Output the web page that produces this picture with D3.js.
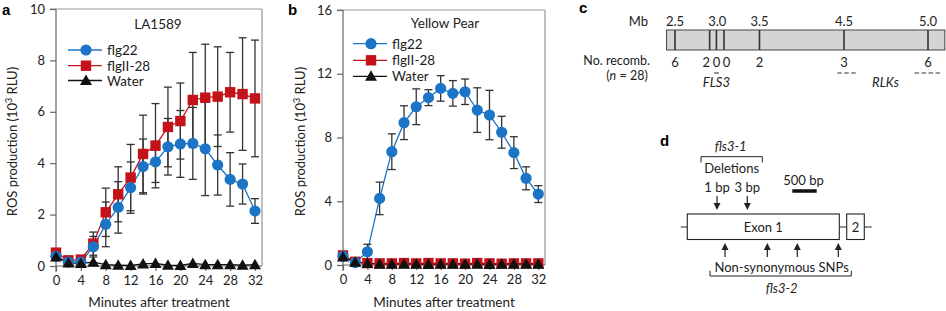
<!DOCTYPE html>
<html><head><meta charset="utf-8">
<script src="https://cdn.jsdelivr.net/npm/d3@7"></script>
<style>
body{margin:0;background:#fff;}
svg{display:block;font-family:Lato,"Open Sans",sans-serif;}
</style></head><body>
<svg id="chart" width="946" height="311"></svg>
<script>
// ---------- DATA ----------
const minutes = [0,2,4,6,8,10,12,14,16,18,20,22,24,26,28,30,32];
const xTicks = [0,4,8,12,16,20,24,28,32];
const seriesNames = ["flg22","flgII-28","Water"];

// Panel a (LA1589)
const aFlg22    = [0.38,0.15,0.15,0.75,1.62,2.28,3.05,3.87,4.05,4.64,4.75,4.77,4.56,3.93,3.37,3.19,2.14];
const aFlg22Err = [0.05,0.05,0.05,0.40,0.87,1.00,1.00,1.07,0.80,1.10,1.30,1.40,1.82,1.17,1.04,0.78,0.48];
const aFlgII    = [0.52,0.22,0.25,0.87,2.09,2.79,3.44,4.36,4.68,5.41,5.64,6.46,6.55,6.59,6.76,6.69,6.52];
const aFlgIIErr = [0.05,0.05,0.05,0.45,0.94,1.07,1.29,1.51,1.64,1.55,1.48,1.85,2.08,1.94,1.55,2.19,2.27];
const aWater    = [0.35,0.12,0.10,0.15,0.05,0.03,0.02,0.08,0.10,0.03,0.02,0.10,0.05,0.05,0.05,0.03,0.05];
const aYTicks = [0,2,4,6,8,10];

// Panel b (Yellow Pear)
const bFlg22    = [0.55,0.15,0.83,4.18,7.11,8.93,9.93,10.50,11.08,10.77,10.87,9.72,9.41,8.33,7.05,5.44,4.45];
const bFlg22Err = [0.05,0.05,0.47,1.02,1.12,1.06,1.12,0.50,0.80,0.80,0.80,1.40,1.55,1.00,1.00,0.72,0.53];
const bFlgII    = [0.60,0.20,0.12,0.10,0.10,0.12,0.10,0.12,0.10,0.10,0.08,0.12,0.10,0.08,0.10,0.10,0.10];
const bWater    = [0.50,0.18,0.10,0.05,0.05,0.05,0.05,0.03,0.05,0.05,0.05,0.05,0.03,0.05,0.05,0.05,0.05];
const bYTicks = [0,4,8,12,16];

// Panel c (genetic map)
const mbTicks = [2.5,3.0,3.5,4.5,5.0];
const markerMb = [2.5,2.91,2.99,3.08,3.5,4.5,5.0];
const recombMb = [2.5,2.87,2.99,3.11,3.5,4.5,5.0];
const recombCounts = [6,2,0,0,2,3,6];
const mapExtentMb = [2.40,5.10];
const fls3Mb = [2.96,3.02];
const rlkRangesMb = [[4.42,4.57],[4.92,5.08]];

// Panel d (gene model, bp)
const geneExtent = [0,3914];
const exon1 = [135,3250];
const exon2 = [3402,3762];
const deletionsBp = [744,1365];
const deletionLabels = ["1 bp","3 bp"];
const snpBp = [908,1775,2389,3230];
const scaleBarBp = [2287,2787];

// ---------- STYLE ----------
const BLUE = "#1b74c5", RED = "#c3121a", BLACK = "#111", ERR = "#333";
const svg = d3.select("#chart");

function panelLabel(t,x,y){
  svg.append("text").attr("x",x).attr("y",y).attr("font-weight","bold").attr("font-size",15)
    .attr("font-family","Arial, Liberation Sans, sans-serif").text(t);
}

function drawPanel(o){
  const g = svg.append("g");
  const x = d3.scaleLinear().domain([0,32]).range([o.x0,o.x1]);
  const y = d3.scaleLinear().domain([0,o.ymax]).range([o.y0,o.y1]);
  // frame top/right
  g.append("line").attr("x1",o.x0-6).attr("x2",o.xr).attr("y1",o.y1).attr("y2",o.y1).attr("stroke","#999").attr("stroke-width",1.2);
  g.append("line").attr("x1",o.xr).attr("x2",o.xr).attr("y1",o.y1).attr("y2",o.y0).attr("stroke","#aaa").attr("stroke-width",1.5);
  // axes
  const ya = g.append("g").attr("transform",`translate(${o.x0},0)`)
    .call(d3.axisLeft(y).tickValues(o.yt).tickSize(6).tickPadding(5));
  const xa = g.append("g").attr("transform",`translate(0,${o.y0})`)
    .call(d3.axisBottom(x).tickValues(xTicks).tickSize(5).tickPadding(5));
  ya.select(".domain").attr("d",`M0,${o.y1}V${o.y0+6}`);
  xa.select(".domain").attr("d",`M${o.x0},0H${o.xr}`);
  [ya,xa].forEach(a=>{
    a.selectAll("path,line").attr("stroke","#666").attr("stroke-width",1.2);
    a.selectAll("text").attr("font-size",13).attr("font-family","Lato, sans-serif").attr("fill","#222");
  });
  // axis titles
  g.append("text").attr("x",(o.x0+o.xr)/2).attr("y",307).attr("text-anchor","middle")
    .attr("font-size",13.5).attr("fill","#222").text("Minutes after treatment");
  const yl = g.append("text").attr("transform",`translate(${o.ylx},${(o.y0+o.y1)/2+4}) rotate(-90)`)
    .attr("text-anchor","middle").attr("font-size",13).attr("fill","#222");
  yl.append("tspan").text("ROS production (10");
  yl.append("tspan").attr("dy",-5).attr("font-size",9).text("3");
  yl.append("tspan").attr("dy",5).text(" RLU)");
  // title
  g.append("text").attr("x",o.tx).attr("y",o.ty).attr("text-anchor","middle").attr("font-size",13.5).attr("fill","#222").text(o.title);

  const line = d3.line().x((d,i)=>x(minutes[i])).y(d=>y(d));
  const series = [
    {v:o.flgII, e:o.flgIIErr, c:RED, m:"sq"},
    {v:o.flg22, e:o.flg22Err, c:BLUE, m:"ci"},
    {v:o.water, e:null, c:BLACK, m:"tr"}
  ];
  series.forEach(s=>{
    g.append("path").datum(s.v).attr("d",line).attr("fill","none").attr("stroke",s.c).attr("stroke-width",1.3);
  });
  series.forEach(s=>{
    if(!s.e) return;
    s.v.forEach((v,i)=>{
      const e = s.e[i]; if(e<0.2) return;
      const cx = x(minutes[i]);
      g.append("line").attr("x1",cx).attr("x2",cx).attr("y1",y(v-e)).attr("y2",y(v+e)).attr("stroke",ERR).attr("stroke-width",1.3);
      [v-e,v+e].forEach(t=>g.append("line").attr("x1",cx-4).attr("x2",cx+4).attr("y1",y(t)).attr("y2",y(t)).attr("stroke",ERR).attr("stroke-width",1.3));
    });
  });
  function marker(sel,m,c,cx,cy){
    if(m==="ci") sel.append("circle").attr("cx",cx).attr("cy",cy).attr("r",5.6).attr("fill",c);
    else if(m==="sq") sel.append("rect").attr("x",cx-5.2).attr("y",cy-5.2).attr("width",10.4).attr("height",10.4).attr("fill",c);
    else sel.append("path").attr("d",`M${cx},${cy-6}L${cx+6},${cy+4.5}L${cx-6},${cy+4.5}Z`).attr("fill",c);
  }
  series.forEach(s=>s.v.forEach((v,i)=>marker(g,s.m,s.c,x(minutes[i]),y(v))));
  const lg = [{n:seriesNames[0],c:BLUE,m:"ci"},{n:seriesNames[1],c:RED,m:"sq"},{n:seriesNames[2],c:BLACK,m:"tr"}];
  lg.forEach((d,i)=>{
    const ly = o.ly[i];
    g.append("line").attr("x1",o.lx).attr("x2",o.lx+34).attr("y1",ly).attr("y2",ly).attr("stroke",d.c).attr("stroke-width",1.3);
    marker(g,d.m,d.c,o.lx+18,ly);
    g.append("text").attr("x",o.lx+39).attr("y",ly+5).attr("font-size",13.5).attr("fill","#222").text(d.n);
  });
}

drawPanel({x0:56,x1:255,xr:262,y0:266,y1:9,ymax:10,yt:aYTicks,ylx:17,tx:158,ty:29,title:"LA1589",
  flg22:aFlg22,flg22Err:aFlg22Err,flgII:aFlgII,flgIIErr:aFlgIIErr,water:aWater,lx:68,ly:[50,65.7,80.5]});
drawPanel({x0:343,x1:538.3,xr:545,y0:265,y1:10,ymax:16,yt:bYTicks,ylx:305,tx:445,ty:28,title:"Yellow Pear",
  flg22:bFlg22,flg22Err:bFlg22Err,flgII:bFlgII,flgIIErr:null,water:bWater,lx:353,ly:[43.7,60.3,76.3]});
panelLabel("a",2,15);
panelLabel("b",288,15);

// ---------- Panel c ----------
(function(){
  const g = svg.append("g").attr("font-size",13).attr("fill","#222");
  const mx = d3.scaleLinear().domain([2.5,3.5,4.5,5.0]).range([675,759.5,844,928]);
  g.append("text").attr("x",648).attr("y",26).attr("text-anchor","end").text("Mb");
  mbTicks.forEach(t=>g.append("text").attr("x",mx(t)).attr("y",26).attr("text-anchor","middle").text(d3.format(".1f")(t)));
  g.append("rect").attr("x",mx(mapExtentMb[0])).attr("y",30).attr("width",mx(mapExtentMb[1])-mx(mapExtentMb[0])).attr("height",20)
    .attr("fill","#d4d4d4").attr("stroke","#444").attr("stroke-width",1);
  markerMb.forEach(m=>g.append("line").attr("x1",mx(m)).attr("x2",mx(m)).attr("y1",30).attr("y2",50).attr("stroke","#333").attr("stroke-width",1.6));
  g.append("text").attr("x",650).attr("y",65).attr("text-anchor","end").attr("font-size",12.5).text("No. recomb.");
  const nt = g.append("text").attr("x",627).attr("y",79.5).attr("text-anchor","middle").attr("font-size",12.5);
  nt.append("tspan").text("(");
  nt.append("tspan").attr("font-style","italic").text("n");
  nt.append("tspan").text(" = 28)");
  recombCounts.forEach((c,i)=>g.append("text").attr("x",mx(recombMb[i])).attr("y",67).attr("text-anchor","middle").text(c));
  g.append("line").attr("x1",mx(fls3Mb[0])).attr("x2",mx(fls3Mb[1])).attr("y1",73).attr("y2",73).attr("stroke","#333").attr("stroke-width",1);
  rlkRangesMb.forEach(r=>g.append("line").attr("x1",mx(r[0])).attr("x2",mx(r[1])).attr("y1",73).attr("y2",73)
    .attr("stroke","#333").attr("stroke-width",1).attr("stroke-dasharray","4.5,2.5"));
  g.append("text").attr("x",mx(d3.mean(fls3Mb))).attr("y",87).attr("text-anchor","middle").attr("font-style","italic").text("FLS3");
  g.append("text").attr("x",mx(d3.mean(rlkRangesMb.flat()))).attr("y",87).attr("text-anchor","middle").attr("font-style","italic").text("RLKs");
  panelLabel("c",579,13);
})();

// ---------- Panel d ----------
(function(){
  const g = svg.append("g").attr("font-size",13).attr("fill","#222");
  const bx = d3.scaleLinear().domain(geneExtent).range([680.7,871.7]);
  const st = "#222";
  g.append("line").attr("x1",bx(geneExtent[0])).attr("x2",bx(geneExtent[1])).attr("y1",227).attr("y2",227).attr("stroke",st).attr("stroke-width",1);
  [exon1,exon2].forEach(e=>g.append("rect").attr("x",bx(e[0])).attr("y",214).attr("width",bx(e[1])-bx(e[0])).attr("height",25.5)
    .attr("fill","#fff").attr("stroke",st).attr("stroke-width",1.1));
  g.append("text").attr("x",bx(d3.mean(exon1))).attr("y",231.5).attr("text-anchor","middle").text("Exon 1");
  g.append("text").attr("x",bx(d3.mean(exon2))).attr("y",231.5).attr("text-anchor","middle").text("2");
  deletionsBp.forEach((d,i)=>{
    const cx = bx(d);
    g.append("text").attr("x",cx).attr("y",192).attr("text-anchor","middle").text(deletionLabels[i]);
    g.append("line").attr("x1",cx).attr("x2",cx).attr("y1",196).attr("y2",205).attr("stroke",st).attr("stroke-width",1.2);
    g.append("path").attr("d",`M${cx-3.5},${203}L${cx},${210}L${cx+3.5},${203}Z`).attr("fill",st);
  });
  const tb0 = bx(deletionsBp[0])-16, tb1 = bx(deletionsBp[1])+15;
  g.append("path").attr("d",`M${tb0},162.5V156.7H${tb1}V162.5`).attr("fill","none").attr("stroke",st).attr("stroke-width",1);
  g.append("text").attr("x",(tb0+tb1)/2).attr("y",172.5).attr("text-anchor","middle").text("Deletions");
  g.append("text").attr("x",(tb0+tb1)/2-1).attr("y",151).attr("text-anchor","middle").attr("font-style","italic").text("fls3-1");
  g.append("line").attr("x1",bx(scaleBarBp[0])).attr("x2",bx(scaleBarBp[1])).attr("y1",191).attr("y2",191).attr("stroke","#111").attr("stroke-width",3.5);
  g.append("text").attr("x",bx(d3.mean(scaleBarBp))-1).attr("y",185).attr("text-anchor","middle").text("500 bp");
  snpBp.forEach(s=>{
    const cx = bx(s);
    g.append("line").attr("x1",cx).attr("x2",cx).attr("y1",248).attr("y2",257).attr("stroke",st).attr("stroke-width",1.2);
    g.append("path").attr("d",`M${cx-3.5},250L${cx},243L${cx+3.5},250Z`).attr("fill",st);
  });
  const bb0 = bx(snpBp[0])-15, bb1 = bx(snpBp[3])+13;
  g.append("path").attr("d",`M${bb0},270.7V276H${bb1}V270.7`).attr("fill","none").attr("stroke",st).attr("stroke-width",1);
  g.append("text").attr("x",(bb0+bb1)/2+1).attr("y",272).attr("text-anchor","middle").text("Non-synonymous SNPs");
  g.append("text").attr("x",(bb0+bb1)/2+1).attr("y",292.5).attr("text-anchor","middle").attr("font-style","italic").text("fls3-2");
  panelLabel("d",660,146);
})();
</script>
</body></html>
